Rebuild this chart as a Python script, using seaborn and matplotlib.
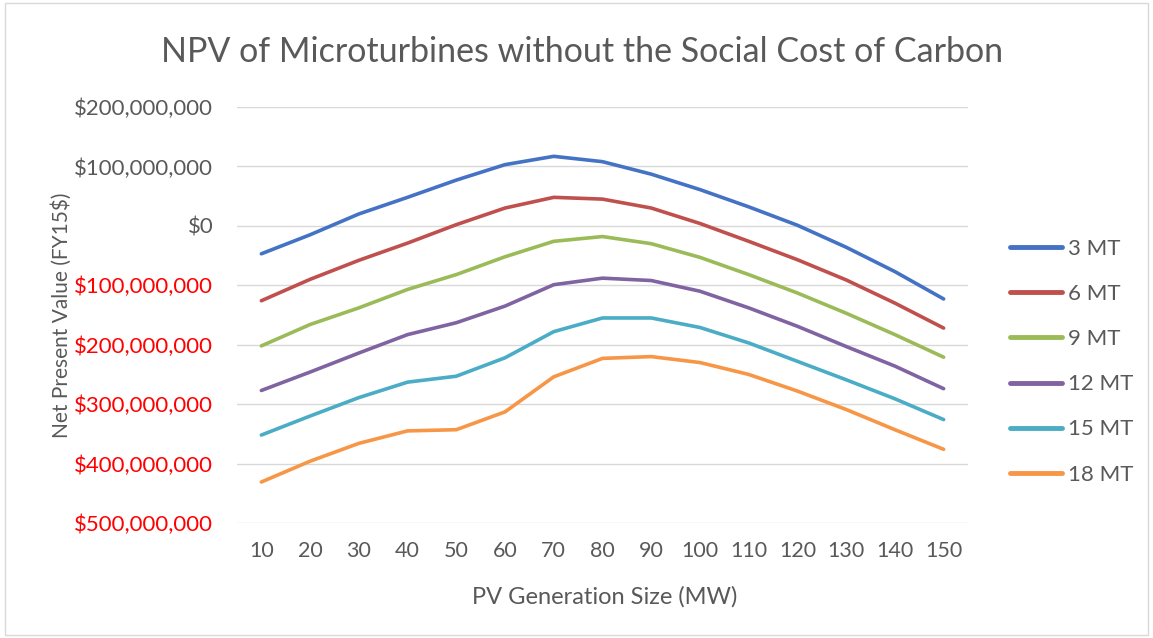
import pandas as pd
import matplotlib
matplotlib.use("Agg")
import matplotlib.pyplot as plt
import seaborn as sns
from matplotlib.ticker import FuncFormatter
from matplotlib.patches import Rectangle

# PV generation sizes (MW)
pv_sizes = [10, 20, 30, 40, 50, 60, 70, 80, 90, 100, 110, 120, 130, 140, 150]

# NPV values in millions of FY15 dollars
npv_3mt = [-47, -15, 20, 48, 77, 103, 117, 108, 87, 61, 32, 1, -36, -77, -123]
npv_6mt = [-126, -90, -58, -29, 2, 30, 48, 45, 30, 4, -26, -57, -91, -130, -172]
npv_9mt = [-202, -166, -138, -107, -82, -52, -26, -18, -30, -53, -82, -113, -147, -183, -221]
npv_12mt = [-277, -246, -214, -183, -163, -135, -99, -88, -92, -110, -138, -169, -203, -236, -274]
npv_15mt = [-352, -320, -289, -263, -253, -222, -178, -155, -155, -171, -197, -228, -259, -291, -326]
npv_18mt = [-431, -396, -366, -345, -343, -313, -254, -223, -220, -230, -250, -278, -309, -343, -376]

series_names = ["3 MT", "6 MT", "9 MT", "12 MT", "15 MT", "18 MT"]
series_colors = ["#4472C4", "#C0504D", "#9BBB59", "#8064A2", "#4BACC6", "#F79646"]

# Build long-format table for seaborn
rows = []
for name, vals in zip(series_names, [npv_3mt, npv_6mt, npv_9mt, npv_12mt, npv_15mt, npv_18mt]):
    for x, v in zip(pv_sizes, vals):
        rows.append({"PV": x, "NPV": v * 1e6, "Series": name})
df = pd.DataFrame(rows)

sns.set_style("white")
plt.rcParams["font.family"] = ["Lato", "DejaVu Sans"]

fig = plt.figure(figsize=(11.53, 6.38), dpi=100)
ax = fig.add_axes([237 / 1153, 1 - 523 / 638, 731 / 1153, 416 / 638])

sns.lineplot(data=df, x="PV", y="NPV", hue="Series", hue_order=series_names,
             palette=series_colors, linewidth=2.6, ax=ax, legend=True)

ax.set_xlim(5, 155)
ax.set_ylim(-500e6, 200e6)
ax.set_xticks(pv_sizes)
ax.set_yticks([200e6, 100e6, 0, -100e6, -200e6, -300e6, -400e6, -500e6])


def money(v, pos):
    return "${:,.0f}".format(abs(v))


ax.yaxis.set_major_formatter(FuncFormatter(money))
ax.tick_params(axis="y", length=0, pad=17, labelsize=16, labelcolor="#595959")
ax.tick_params(axis="x", length=0, pad=13, labelsize=15.5, labelcolor="#595959")
for lbl, val in zip(ax.get_yticklabels(), ax.get_yticks()):
    if val < 0:
        lbl.set_color("#FF0000")

ax.grid(axis="y", color="#D9D9D9", linewidth=1)
ax.grid(axis="x", visible=False)
for s in ax.spines.values():
    s.set_visible(False)

ax.set_xlabel("PV Generation Size (MW)", fontsize=17, color="#595959")
ax.set_ylabel("Net Present Value (FY15$)", fontsize=15, color="#595959")
ax.xaxis.set_label_coords(0.503, -0.152)
ax.yaxis.set_label_coords(-0.226, 0.5)

fig.text(0.505, 1 - 52 / 638, "NPV of Microturbines without the Social Cost of Carbon",
         ha="center", va="center", fontsize=24.5, color="#595959")

leg = ax.legend(loc="upper left", bbox_to_anchor=(1010 / 1153, 1 - 239 / 638),
                bbox_transform=fig.transFigure, frameon=False, fontsize=16,
                handlelength=2.35, handletextpad=0.25, labelspacing=1.13,
                borderpad=0, borderaxespad=0)
for t in leg.get_texts():
    t.set_color("#595959")
for h in leg.get_lines():
    h.set_linewidth(3.5)

# Light chart border
fig.patches.append(Rectangle((0.004, 0.004), 0.992, 0.992, transform=fig.transFigure,
                             fill=False, edgecolor="#D9D9D9", linewidth=1))

fig.savefig("out.png", dpi=100)
